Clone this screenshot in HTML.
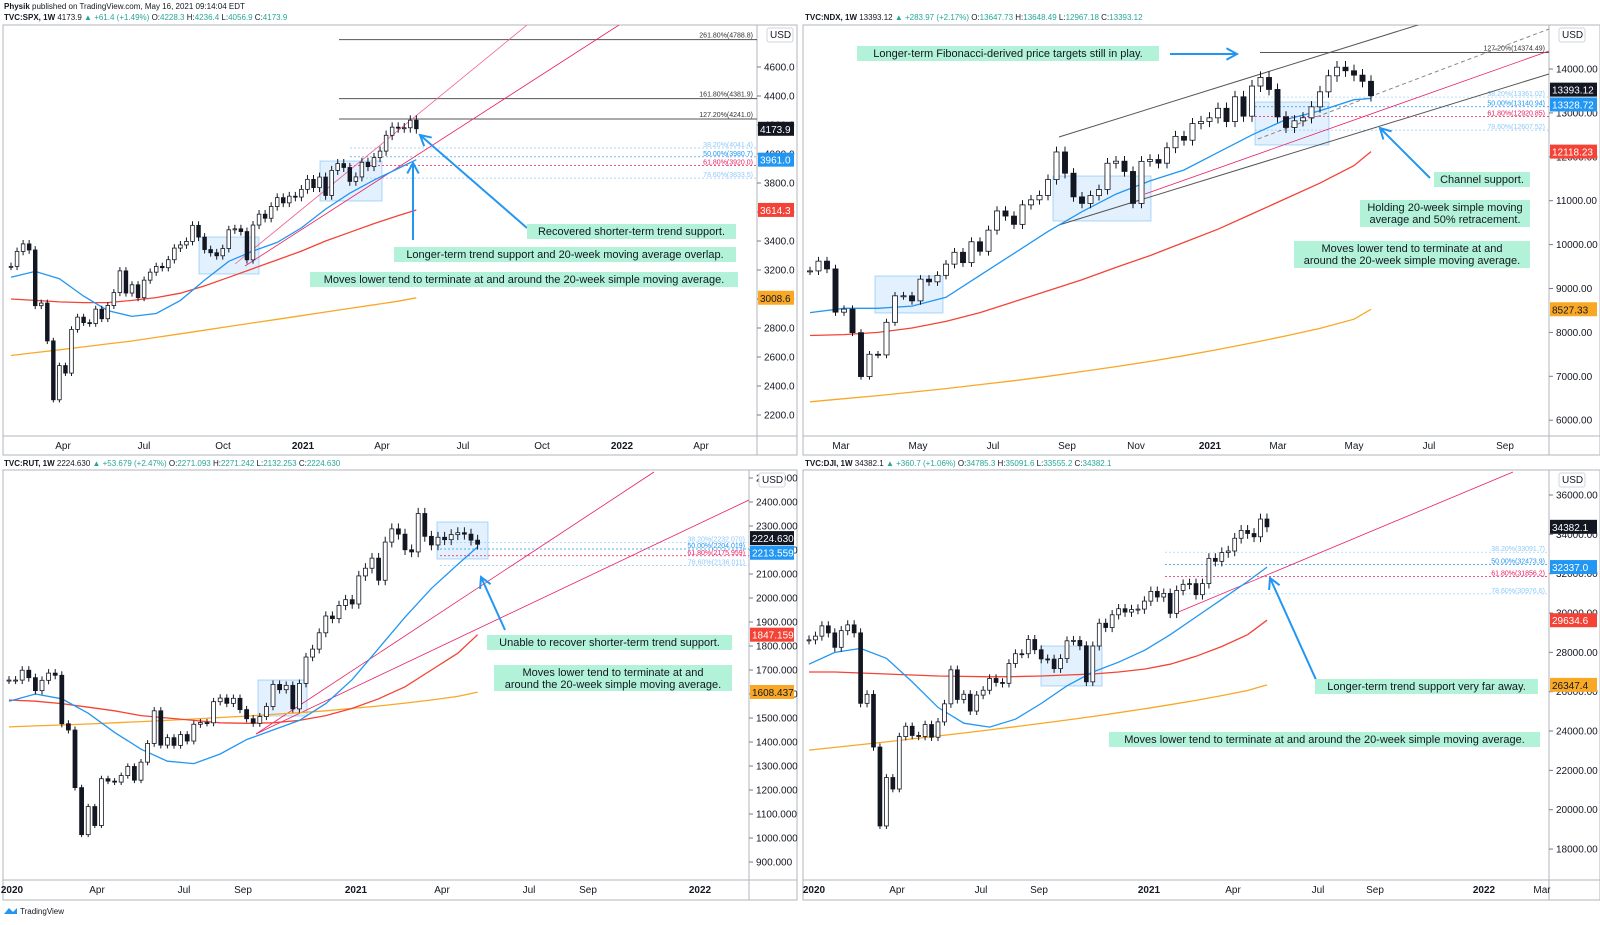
<!DOCTYPE html>
<html><head><meta charset="utf-8">
<style>
body{margin:0;background:#fff;width:1600px;height:920px;overflow:hidden;font-family:"Liberation Sans",sans-serif}
svg text{font-family:"Liberation Sans",sans-serif}
</style></head>
<body>
<svg id="root" width="1600" height="920" viewBox="0 0 1600 920" xmlns="http://www.w3.org/2000/svg">
<text x="4" y="9" font-size="8" fill="#131722"><tspan font-weight="bold">Physik</tspan> published on TradingView.com, May 16, 2021 09:14:04 EDT</text>
<text x="4" y="20" font-size="8" fill="#131722"><tspan font-weight="bold">TVC:SPX, 1W</tspan> 4173.9 <tspan fill="#26a69a">▲ +61.4 (+1.49%)</tspan> O:<tspan fill="#26a69a">4228.3</tspan> H:<tspan fill="#26a69a">4236.4</tspan> L:<tspan fill="#26a69a">4056.9</tspan> C:<tspan fill="#26a69a">4173.9</tspan></text>
<text x="805" y="20" font-size="8" fill="#131722"><tspan font-weight="bold">TVC:NDX, 1W</tspan> 13393.12 <tspan fill="#26a69a">▲ +283.97 (+2.17%)</tspan> O:<tspan fill="#26a69a">13647.73</tspan> H:<tspan fill="#26a69a">13648.49</tspan> L:<tspan fill="#26a69a">12967.18</tspan> C:<tspan fill="#26a69a">13393.12</tspan></text>
<text x="4" y="466" font-size="8" fill="#131722"><tspan font-weight="bold">TVC:RUT, 1W</tspan> 2224.630 <tspan fill="#26a69a">▲ +53.679 (+2.47%)</tspan> O:<tspan fill="#26a69a">2271.093</tspan> H:<tspan fill="#26a69a">2271.242</tspan> L:<tspan fill="#26a69a">2132.253</tspan> C:<tspan fill="#26a69a">2224.630</tspan></text>
<text x="805" y="466" font-size="8" fill="#131722"><tspan font-weight="bold">TVC:DJI, 1W</tspan> 34382.1 <tspan fill="#26a69a">▲ +360.7 (+1.06%)</tspan> O:<tspan fill="#26a69a">34785.3</tspan> H:<tspan fill="#26a69a">35091.6</tspan> L:<tspan fill="#26a69a">33555.2</tspan> C:<tspan fill="#26a69a">34382.1</tspan></text>
<g><path d="M4 914 l5 -6 l4 4 l4 -4 v6z" fill="#2196f3"/><text x="20" y="914" font-size="8" fill="#131722">TradingView</text></g>
</svg>
<script>
// ---------- DATA ----------
const spxCloses=[3225,3328,3380,3338,2954,2972,2711,2305,2541,2489,2790,2875,2837,2831,2930,2864,2955,3044,3194,3041,3098,3009,3130,3185,3225,3216,3271,3351,3373,3397,3508,3427,3341,3319,3298,3348,3477,3484,3465,3270,3510,3585,3557,3638,3699,3663,3709,3703,3756,3825,3768,3841,3714,3887,3934,3907,3811,3842,3943,3913,3975,4020,4129,4185,4180,4181,4233,4174];
const spxSma20=[3150,3190,3140,3020,2920,2880,2900,2990,3130,3260,3330,3390,3490,3620,3730,3820,3900,3961];
const spxSma50=[3000,2990,2980,2975,2975,2990,3010,3040,3090,3150,3210,3270,3330,3400,3460,3520,3575,3614];
const spxSma200=[2610,2630,2650,2670,2690,2710,2735,2760,2785,2810,2835,2860,2885,2910,2935,2960,2985,3008];
const spxTicks=[2200,2400,2600,2800,3000,3200,3400,3600,3800,4000,4200,4400,4600];
const spxFib=[[4788.8,'261.80%(4788.8)'],[4381.9,'161.80%(4381.9)'],[4241.0,'127.20%(4241.0)']];
const spxRetr=[[4041.4,'38.20%(4041.4)'],[3980.7,'50.00%(3980.7)'],[3920.0,'61.80%(3920.0)'],[3833.5,'78.60%(3833.5)']];
const spxLabels=['Apr','Jul','Oct','2021','Apr','Jul','Oct','2022','Apr'];

const ndxCloses=[9401,9623,9446,8461,8530,7994,6994,7502,7487,8230,8833,8834,8718,9213,9152,9300,9555,9825,9589,10064,9848,10330,10767,10650,10461,10905,11020,11120,11481,12110,11626,11087,10938,11117,11255,11853,11900,11666,10937,11896,11938,11855,12206,12465,12378,12756,12804,12888,13105,12803,13367,12925,13612,13807,13534,12909,12668,12820,12889,13138,13480,13845,14041,13960,13860,13720,13393];
const ndxSma20=[8450,8550,8550,8600,8800,9300,9800,10300,10750,11150,11450,11700,12100,12500,12850,13050,13300,13328];
const ndxSma50=[7930,7950,8000,8100,8250,8450,8700,8950,9200,9480,9750,10050,10350,10700,11050,11400,11800,12118];
const ndxSma200=[6420,6490,6560,6640,6720,6810,6900,7000,7110,7220,7340,7470,7610,7760,7920,8090,8300,8527];
const ndxTicks=[6000,7000,8000,9000,10000,11000,12000,13000,14000,15000];
const ndxFib=[[14374.49,'127.20%(14374.49)']];
const ndxRetr=[[13361.02,'38.20%(13361.02)'],[13140.94,'50.00%(13140.94)'],[12920.85,'61.80%(12920.85)'],[12607.52,'78.60%(12607.52)']];
const ndxLabels=['Mar','May','Jul','Sep','Nov','2021','Mar','May','Jul','Sep'];

const rutCloses=[1658,1658,1699,1668,1614,1657,1687,1678,1476,1450,1210,1014,1131,1052,1247,1237,1233,1260,1298,1241,1316,1394,1530,1387,1418,1386,1431,1404,1474,1481,1480,1568,1583,1561,1582,1535,1497,1478,1506,1548,1640,1618,1636,1538,1644,1754,1787,1855,1925,1914,1969,1993,1975,2092,2124,2166,2074,2233,2288,2266,2201,2192,2352,2257,2221,2253,2243,2264,2272,2266,2241,2224];
const rutSma20=[1570,1600,1580,1520,1440,1370,1320,1310,1350,1410,1450,1490,1560,1660,1790,1920,2040,2140,2213];
const rutSma50=[1575,1570,1560,1545,1530,1510,1500,1490,1480,1478,1480,1490,1510,1540,1580,1630,1700,1770,1847];
const rutSma200=[1463,1467,1471,1475,1480,1485,1490,1496,1502,1508,1515,1522,1530,1540,1550,1562,1575,1590,1608];
const rutTicks=[900,1000,1100,1200,1300,1400,1500,1600,1700,1800,1900,2000,2100,2200,2300,2400,2500];
const rutRetr=[[2232.07,'38.20%(2232.070)'],[2204.019,'50.00%(2204.019)'],[2175.959,'61.80%(2175.959)'],[2136.011,'78.60%(2136.011)']];
const rutLabels=['2020','Apr','Jul','Sep','2021','Apr','Jul','Sep','2022'];

const djiCloses=[28635,28824,29348,28990,28256,29103,29398,28992,25409,25865,23186,19174,21637,21053,23719,24242,23775,23724,24331,23685,24465,25383,27111,25606,25871,25016,25827,26075,26672,26470,26428,27433,27931,27930,28654,28133,27666,27657,27174,27683,28586,28606,28336,26502,28323,29480,29263,29910,30218,30046,30179,30200,30606,31098,30814,30997,29983,31148,31458,31494,30932,31496,32779,32628,33073,33153,33801,34200,34043,33875,34778,34382];
const djiSma20=[27400,28000,28200,27700,26500,25200,24400,24200,24600,25400,26300,27000,27500,28100,28900,29800,30700,31600,32337];
const djiSma50=[27000,27000,26950,26900,26850,26800,26780,26760,26770,26800,26850,26900,27000,27150,27400,27800,28300,28900,29634];
const djiSma200=[23030,23170,23310,23450,23600,23750,23900,24060,24220,24390,24560,24740,24930,25130,25340,25560,25800,26060,26347];
const djiTicks=[18000,20000,22000,24000,26000,28000,30000,32000,34000,36000];
const djiRetr=[[33091.7,'38.20%(33091.7)'],[32473.9,'50.00%(32473.9)'],[31856.2,'61.80%(31856.2)'],[30976.6,'78.60%(30976.6)']];
const djiLabels=['2020','Apr','Jul','Sep','2021','Apr','Jul','Sep','2022','Mar'];

// ---------- DRAW ----------
const NS='http://www.w3.org/2000/svg';
const root=document.getElementById('root');
function mk(tag,attrs,parent){const e=document.createElementNS(NS,tag);for(const k in attrs)e.setAttribute(k,attrs[k]);(parent||root).appendChild(e);return e;}

const BLUE='#2196f3',RED='#f44336',ORANGE='#f9a825';

function drawChart(c){
  const g=mk('g',{});
  
  
  const yS=v=>c.y0-(v-c.v0)*c.k;
  const xS=i=>c.x0+i*c.dx;
  const fr=mk('rect',{x:c.L,y:c.T,width:c.R-c.L,height:c.B-c.T,fill:'#fff',stroke:'#b2b5be','stroke-width':1},g);
  
  
  mk('line',{x1:c.ax,y1:c.T,x2:c.ax,y2:c.B,stroke:'#b2b5be'},g);
  mk('line',{x1:c.L,y1:c.tb,x2:c.R,y2:c.tb,stroke:'#b2b5be'},g);
  c.ticks.forEach(v=>{const y=yS(v);if(y<c.T+6||y>c.tb-4)return;
    mk('line',{x1:c.ax,y1:y,x2:c.ax+4,y2:y,stroke:'#787b86'},g);
    const t=mk('text',{x:c.ax+7,y:y+3.5,'font-size':10,fill:'#131722'},g);t.textContent=c.fmt(v);
    
    
  });
  mk('rect',{x:c.ax+10,y:c.T+3,width:26,height:14,fill:'#fff',stroke:'#d1d4dc',rx:2},g);
  const ut=mk('text',{x:c.ax+13,y:c.T+13,'font-size':10,fill:'#131722'},g);ut.textContent='USD';
  
  
  c.labels.forEach((s,i)=>{const t=mk('text',{x:c.lx[i],y:c.tb+13,'font-size':10,fill:'#131722','text-anchor':'middle','font-weight':/^20/.test(s)?'bold':'normal'},g);t.textContent=s;
    
    
  });
  const clipId='clip-'+c.name;
  const cp=mk('clipPath',{id:clipId},g);mk('rect',{x:c.L,y:c.T,width:c.ax-c.L,height:c.tb-c.T},cp);
  const pg=mk('g',{'clip-path':'url(#'+clipId+')'},g);
  c.boxes.forEach(b=>{const r=mk('rect',{x:b[0],y:b[1],width:b[2]-b[0],height:b[3]-b[1],fill:'rgba(33,150,243,0.13)',stroke:'rgba(33,150,243,0.35)'},pg);
    
    });
  (c.fib||[]).forEach(f=>{const y=yS(f[0]);mk('line',{x1:c.fibX,y1:y,x2:c.ax,y2:y,stroke:'#555','stroke-width':1},pg);
    const t=mk('text',{x:c.ax-4,y:y-2,'font-size':7,fill:'#333','text-anchor':'end'},pg);t.textContent=f[1];
    
    });
  const rc=['#90caf9',BLUE,'#e91e63','#90caf9'];
  c.retr.forEach((f,i)=>{const y=yS(f[0]);mk('line',{x1:c.retX,y1:y,x2:c.ax,y2:y,stroke:rc[i],'stroke-width':0.7,'stroke-dasharray':'2,2'},pg);
    const t=mk('text',{x:c.ax-4,y:y-1,'font-size':7,fill:rc[i],'text-anchor':'end'},pg);t.textContent=f[1];
    
    });
  c.lines.forEach(l=>{const e=mk('line',{x1:l[0],y1:l[1],x2:l[2],y2:l[3],stroke:l[4],'stroke-width':l[5]||1,'stroke-dasharray':l[6]||'none'},pg);
    
    });
  const n=c.closes.length;
  [[c.ma200,ORANGE,'sma-200'],[c.ma50,RED,'sma-50'],[c.ma20,BLUE,'sma-20']].forEach(m=>{
    const pts=m[0].map((v,k)=>xS(Math.min(k*4,n-1)).toFixed(1)+','+yS(v).toFixed(1)).join(' ');
    const p=mk('polyline',{points:pts,fill:'none',stroke:m[1],'stroke-width':1.3},pg);
    
    
  });
  const w=Math.max(2,c.dx*0.6);
  c.closes.forEach((cl,i)=>{
    const op=i?c.closes[i-1]:cl;const up=cl>=op;
    const hi=Math.max(op,cl)*(1+c.wick),lo=Math.min(op,cl)*(1-c.wick);
    const x=xS(i);
    mk('line',{x1:x,y1:yS(hi),x2:x,y2:yS(lo),stroke:'#131722','stroke-width':1},pg);
    const r=mk('rect',{x:x-w/2,y:yS(Math.max(op,cl)),width:w,height:Math.max(1,Math.abs(yS(op)-yS(cl))),fill:up?'#fff':'#131722',stroke:'#131722','stroke-width':0.8},pg);
    
    
  });
  c.arrows.forEach(a=>{
    const e=mk('line',{x1:a[0],y1:a[1],x2:a[2],y2:a[3],stroke:BLUE,'stroke-width':2},pg);
    
    
    const ang=Math.atan2(a[3]-a[1],a[2]-a[0]);
    const h=(s)=>[a[2]-12*Math.cos(ang+s),a[3]-12*Math.sin(ang+s)];
    const p1=h(0.5),p2=h(-0.5);
    mk('polyline',{points:p1.join(',')+' '+a[2]+','+a[3]+' '+p2.join(','),fill:'none',stroke:BLUE,'stroke-width':2},pg);
  });
  c.notes.forEach(nt=>{
    const r=mk('rect',{x:nt[0],y:nt[1],width:nt[2]-nt[0],height:nt[3]-nt[1],fill:'#b2f2d8'},g);
    
    
    nt[4].forEach((s,j)=>{const t=mk('text',{x:(nt[0]+nt[2])/2,y:nt[1]+11+j*12,'font-size':11,fill:'#131722','text-anchor':'middle'},g);t.textContent=s;});
  });
  c.badges.forEach(b=>{const y=yS(b[0])+(b[4]||0);
    const r=mk('rect',{x:c.ax+1,y:y-7,width:c.R-c.ax-4,height:14,fill:b[2]},g);
    
    
    const t=mk('text',{x:c.ax+3,y:y+4,'font-size':10,fill:b[3]},g);t.textContent=b[1];});
}

const W='#fff',K='#131722';
drawChart({name:'spx',L:3,T:25,R:797,B:455,ax:757,tb:436,x0:11,dx:6.05,y0:183,v0:3800,k:0.145,wick:0.008,
  closes:spxCloses,ma20:spxSma20,ma50:spxSma50,ma200:spxSma200,ticks:spxTicks,fmt:v=>v.toFixed(1),
  labels:spxLabels,lx:[63,144,223,303,382,463,542,622,701],fib:spxFib,fibX:339,retr:spxRetr,retX:350,
  boxes:[[199,237,259,274],[320,161,382,201]],
  lines:[[235,264,527,25,'#f06292',0.8],[245,266,619,25,'#e91e63',0.8]],
  arrows:[[527,228,420,135],[413,240,413,163]],
  notes:[[527,224,736,239,['Recovered shorter-term trend support.']],[394,247,736,262,['Longer-term trend support and 20-week moving average overlap.']],[310,272,738,287,['Moves lower tend to terminate at and around the 20-week simple moving average.']]],
  badges:[[4173.9,'4173.9',K,W],[3961.0,'3961.0',BLUE,W],[3614.3,'3614.3',RED,W],[3008.6,'3008.6',ORANGE,K]]});

drawChart({name:'ndx',L:803,T:25,R:1600,B:455,ax:1549,tb:436,x0:810,dx:8.5,y0:69,v0:14000,k:0.0439,wick:0.01,
  closes:ndxCloses,ma20:ndxSma20,ma50:ndxSma50,ma200:ndxSma200,ticks:ndxTicks,fmt:v=>v.toFixed(2),
  labels:ndxLabels,lx:[841,918,993,1067,1136,1210,1278,1354,1429,1505],fib:ndxFib,fibX:1260,retr:ndxRetr,retX:1255,
  boxes:[[875,276,943,313],[1053,176,1151,221],[1255,102,1329,145]],
  lines:[[1059,137,1421,24,'#555',1],[1059,225,1549,74,'#555',1],[1258,139,1549,29,'#888',1,'4,3'],[1145,194,1549,51,'#e91e63',0.8]],
  arrows:[[1170,54,1237,54],[1430,178,1380,128]],
  notes:[[857,46,1159,61,['Longer-term Fibonacci-derived price targets still in play.']],[1434,172,1530,187,['Channel support.']],[1360,200,1530,227,['Holding 20-week simple moving','average and 50% retracement.']],[1294,241,1530,268,['Moves lower tend to terminate at and','around the 20-week simple moving average.']]],
  badges:[[13393.12,'13393.12',K,W,-6],[13328.72,'13328.72',BLUE,W,6],[12118.23,'12118.23',RED,W],[8527.33,'8527.33',ORANGE,K]]});

drawChart({name:'rut',L:3,T:470,R:797,B:900,ax:749,tb:880,x0:9,dx:6.6,y0:502,v0:2400,k:0.24,wick:0.01,
  closes:rutCloses,ma20:rutSma20,ma50:rutSma50,ma200:rutSma200,ticks:rutTicks,fmt:v=>v.toFixed(3),
  labels:rutLabels,lx:[12,97,184,243,356,442,529,588,700],retr:rutRetr,retX:440,
  boxes:[[258,680,307,716],[437,522,488,559]],
  lines:[[256,734,654,472,'#e91e63',0.8],[256,734,749,500,'#e91e63',0.8]],
  arrows:[[505,630,481,577]],
  notes:[[487,635,732,650,['Unable to recover shorter-term trend support.']],[494,665,732,691,['Moves lower tend to terminate at and','around the 20-week simple moving average.']]],
  badges:[[2224.63,'2224.630',K,W,-6],[2213.559,'2213.559',BLUE,W,6],[1847.159,'1847.159',RED,W],[1608.437,'1608.437',ORANGE,K]]});

drawChart({name:'dji',L:803,T:470,R:1600,B:900,ax:1549,tb:880,x0:809,dx:6.45,y0:495,v0:36000,k:0.01967,wick:0.008,
  closes:djiCloses,ma20:djiSma20,ma50:djiSma50,ma200:djiSma200,ticks:djiTicks,fmt:v=>v.toFixed(2),
  labels:djiLabels,lx:[814,897,981,1039,1149,1233,1318,1375,1484,1542],retr:djiRetr,retX:1165,
  boxes:[[1041,646,1102,686]],
  lines:[[1176,613,1513,472,'#e91e63',0.8]],
  arrows:[[1322,693,1270,578]],
  notes:[[1315,679,1538,694,['Longer-term trend support very far away.']],[1109,732,1540,747,['Moves lower tend to terminate at and around the 20-week simple moving average.']]],
  badges:[[34382.1,'34382.1',K,W],[32337.0,'32337.0',BLUE,W],[29634.6,'29634.6',RED,W],[26347.4,'26347.4',ORANGE,K]]});
</script>
</body></html>
